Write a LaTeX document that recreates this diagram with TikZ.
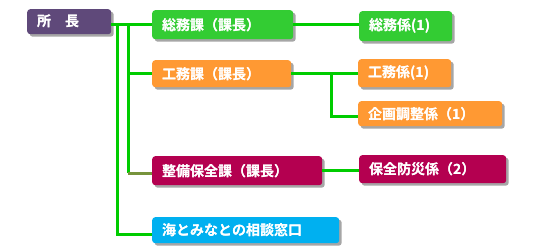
\documentclass[tikz,border=0pt]{standalone}
\usepackage{fontspec}
\usepackage[outline]{contour}
\newfontfamily\jp{Noto Sans CJK JP}[UprightFont=* Bold]
\contourlength{0.3pt}
\usetikzlibrary{shadows}
\definecolor{cpurple}{RGB}{95,73,122}
\definecolor{cgreen}{RGB}{51,204,51}
\definecolor{corange}{RGB}{255,153,51}
\definecolor{ccrimson}{RGB}{180,0,80}
\definecolor{ccyan}{RGB}{0,176,240}
\definecolor{cline}{RGB}{0,204,0}
\definecolor{colive}{RGB}{119,147,60}
\newcommand{\bt}[1]{\contour{white}{#1}}
\tikzset{
  orgbox/.style={anchor=north west, rounded corners=3pt, text=white,
    font=\jp\fontsize{14}{16}\selectfont, inner xsep=10pt, inner ysep=0pt,
    align=left, drop shadow={shadow xshift=2.5pt, shadow yshift=-2.5pt, fill=black, opacity=0.35}},
  bx/.style n args={2}{orgbox, minimum width=#1pt, text width=#1pt-20pt, minimum height=#2pt},
  conn/.style={draw=cline, line width=3pt},
  connolive/.style={draw=colive, line width=3pt},
}
\begin{document}
\begin{tikzpicture}[x=1pt,y=-1pt]
\useasboundingbox (0,0) rectangle (550,249);
\fill[white] (0,0) rectangle (550,249);
\coordinate (j1) at (117,25);
\coordinate (j2) at (128,25);
\coordinate (j3) at (331,73.5);
% nodes
\node[bx={84}{25}, fill=cpurple] (chief) at (27,9) {\bt{所　長}};
\node[bx={141}{29}, fill=cgreen] (soumu) at (152,10) {\bt{総務課（課長）}};
\node[bx={139}{27}, fill=corange] (koumu) at (152,60) {\bt{工務課（課長）}};
\node[bx={93}{30}, fill=cgreen] (sk) at (359,11) {\bt{総務係(1)}};
\node[bx={93}{28}, fill=corange] (kk) at (358,59) {\bt{工務係(1)}};
\node[bx={144}{25}, fill=corange] (kikaku) at (358,101) {\bt{企画調整係（1）}};
\node[bx={170}{29}, fill=ccrimson] (seibi) at (152,156) {\bt{整備保全課（課長）}};
\node[bx={147}{28}, fill=ccrimson] (hozen) at (359,155) {\bt{保全防災係（2）}};
\node[bx={187}{26}, fill=ccyan] (umi) at (152,217) {\bt{海とみなとの相談窓口}};
\coordinate (sl) at ([yshift=-2.5pt]seibi.west);
\coordinate (ul) at ([yshift=-4pt]umi.west);
\coordinate (kl) at ([yshift=-3pt]kikaku.west);
\draw[conn] (chief.east |- soumu.west) -- (soumu.west);
\draw[conn] (j2) |- (koumu.west);
\draw[conn] (j2) -- (j2 |- sl);
\draw[connolive] (j2 |- sl) -- (sl);
\draw[conn] (j1) |- (ul);
\draw[conn] (soumu.east) -- (soumu.east -| sk.west);
\draw[conn] (koumu.east) -- (koumu.east -| kk.west);
\draw[conn] (j3) |- (kl);
\draw[conn] (seibi.east) -- (seibi.east -| hozen.west);
\end{tikzpicture}
\end{document}
